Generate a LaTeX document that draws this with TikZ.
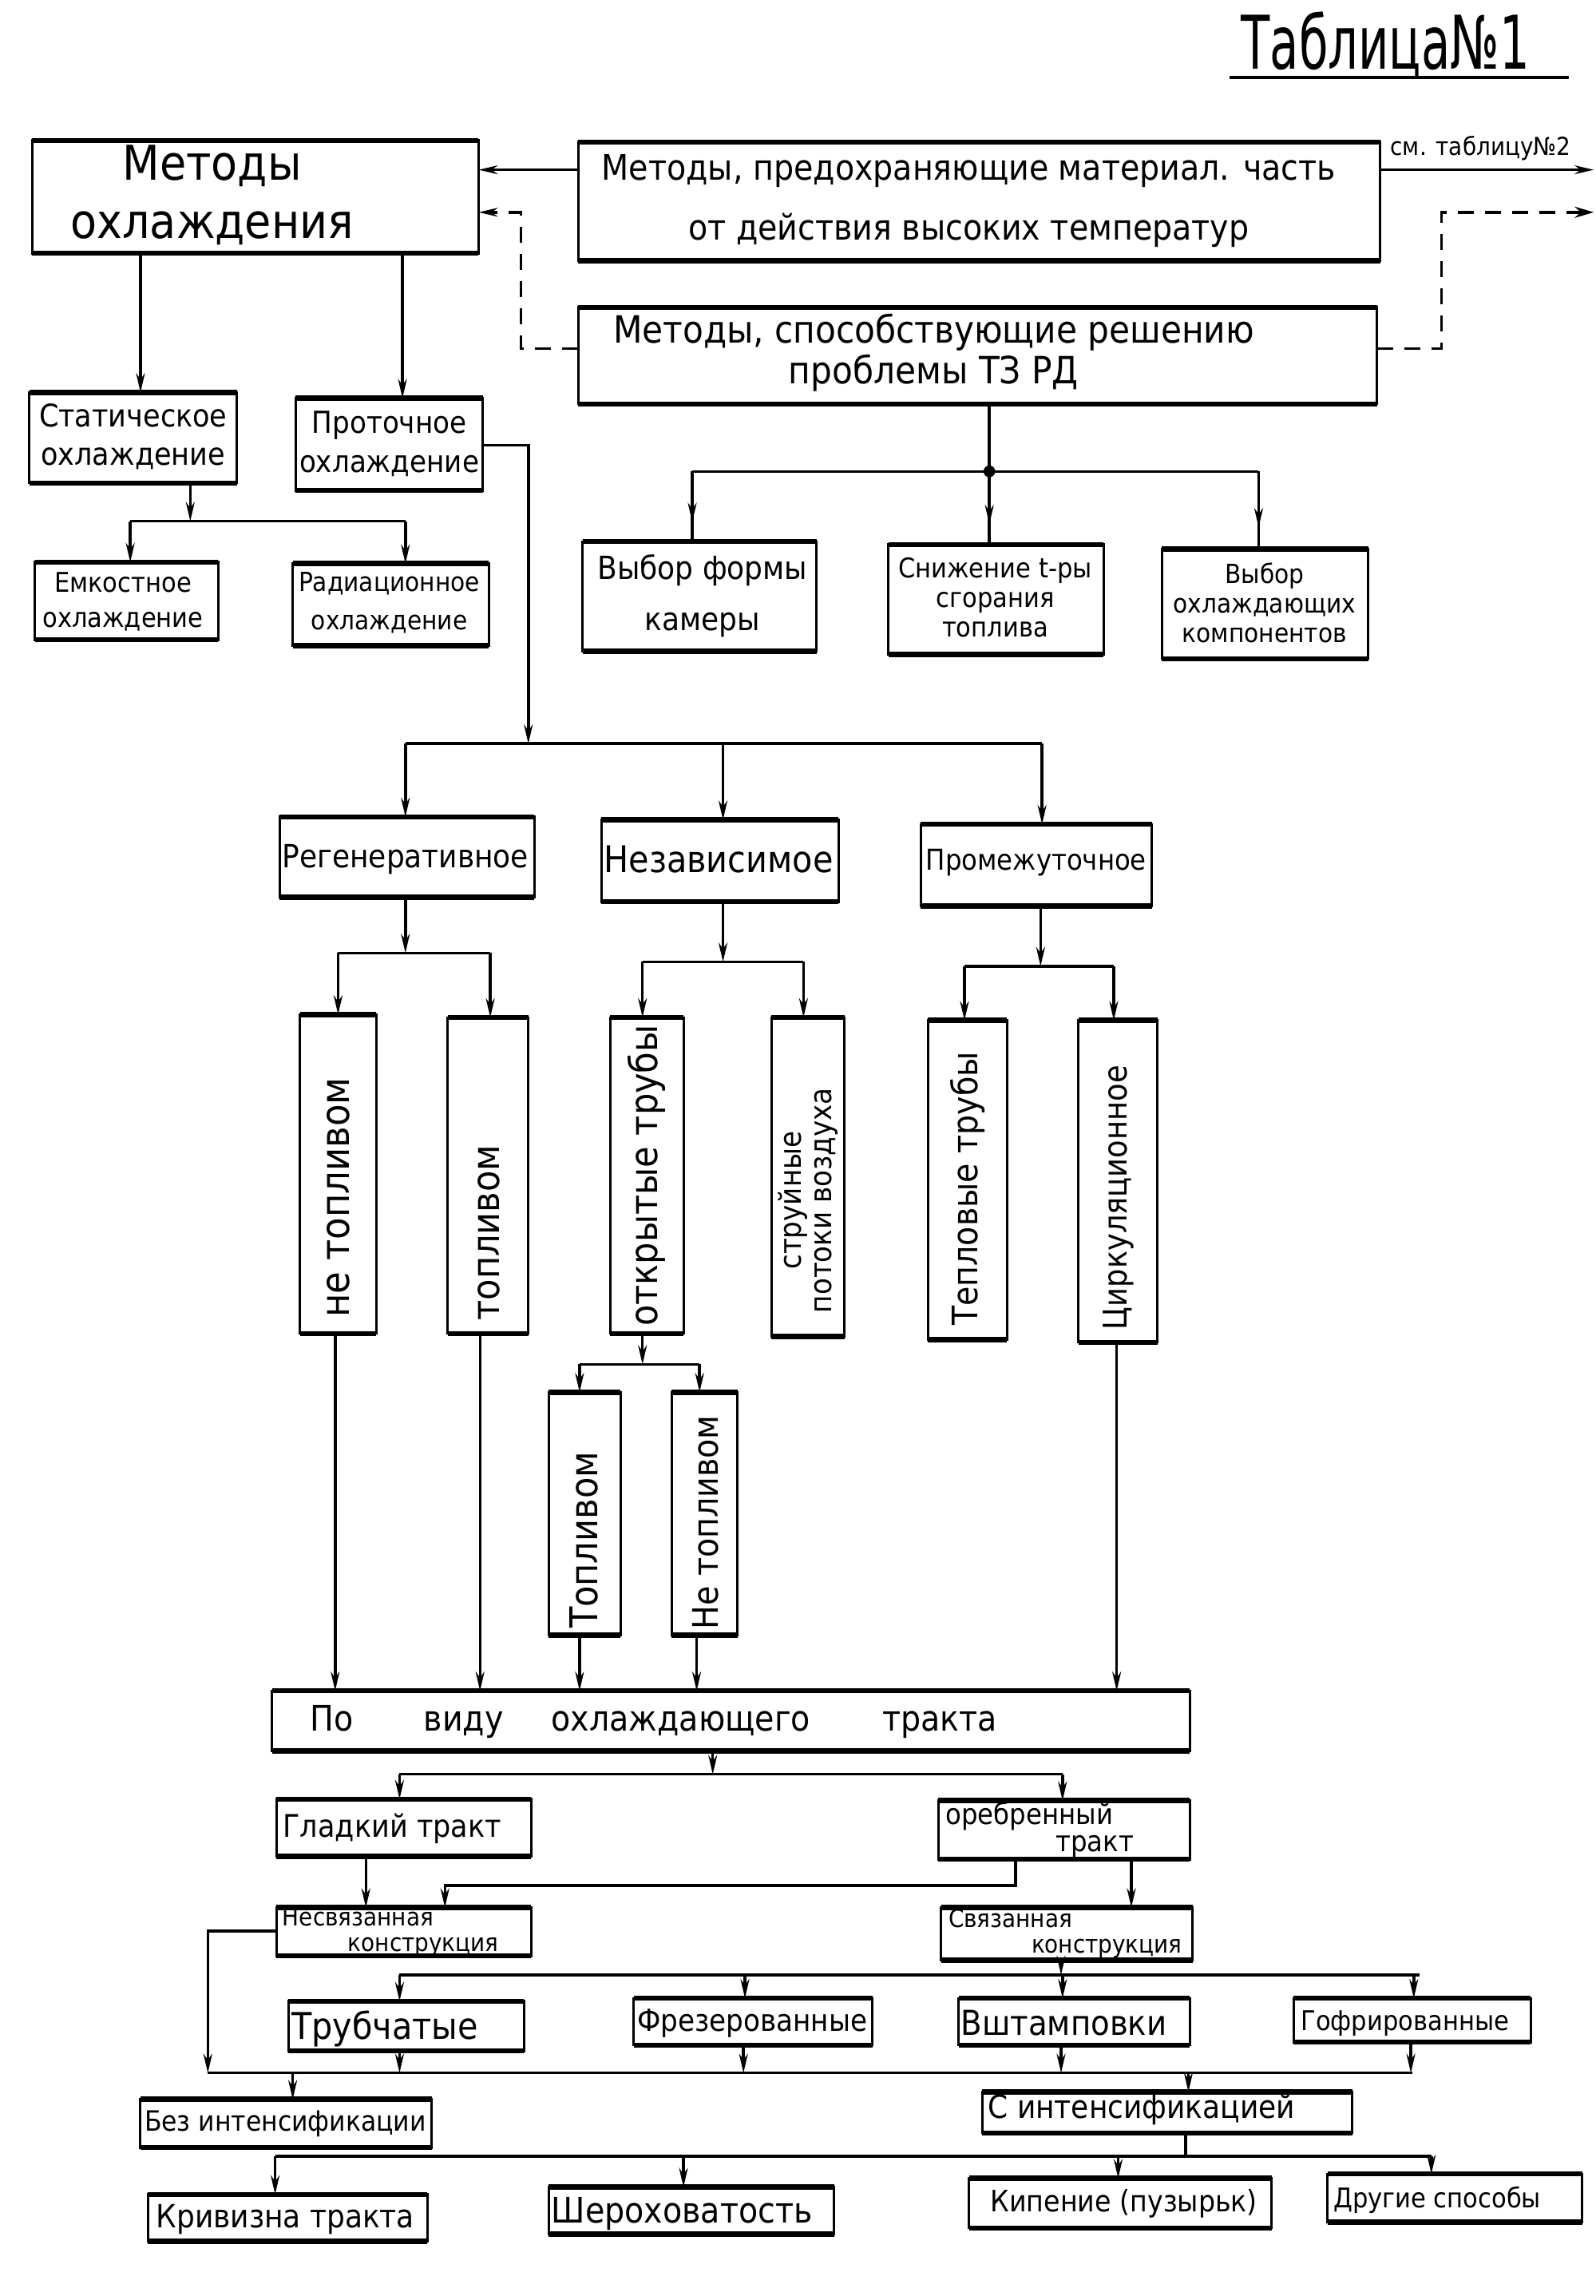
\documentclass[tikz,border=0pt]{standalone}
\usepackage{fontspec}
\setmainfont{DejaVu Sans Condensed}
\usetikzlibrary{arrows.meta,decorations.markings}
\newcommand\bx[6][]{%
 \pgfmathsetmacro\bxcx{(#3+#5)/2}%
 \pgfmathsetmacro\bxcy{(#4+#6)/2}%
 \pgfmathsetmacro\bxw{(#5-#3)*1.83303}%
 \pgfmathsetmacro\bxh{(#6-#4)*1.83303}%
 \node[box,minimum width=\bxw pt,minimum height=\bxh pt,#1] (#2) at (\bxcx,\bxcy) {};%
 \draw[thickedge] (#2.north west) -- (#2.north east) (#2.south west) -- (#2.south east);%
}
\tikzset{
 box/.style={draw,line width=3pt,inner sep=0pt,outer sep=0pt},
 thickedge/.style={line width=6.5pt},
 txt/.style={inner sep=0pt,align=center},
 fs/.style 2 args={font=\fontsize{#1}{#2}\selectfont},
 conn/.style={line width=3.5pt},
 arr/.style={conn,-{Stealth[length=24pt,width=11pt]}},
 marr/.style={conn,postaction={decorate},decoration={markings,mark=at position 0.72 with {\arrow{Stealth[length=24pt,width=11pt]}}}},
 dconn/.style={conn,dash pattern=on 20pt off 14pt},
}
\begin{document}
\begin{tikzpicture}[x=1.83303pt,y=-1.83303pt]
\useasboundingbox (0,0) rectangle (1090,1568.4);
% title
\node[txt,anchor=base west] (title) at (848,47) {\resizebox{361pt}{72pt}{Таблица№1}};
\draw[line width=4pt] (840,53) -- (1072,53);
\node[txt,fs={31}{33},anchor=base west] (see2) at (950,106) {см. таблицу№2};
% boxes
\bx{A}{22}{96}{327}{173}
\bx{B}{395}{97}{943}{178}
\bx{C}{395}{210}{941}{276}
\bx{D}{20}{268}{162}{330}
\bx{E}{202}{272}{330}{335}
\bx{F}{24}{384}{149}{437}
\bx{G}{200}{385}{334}{441}
\bx{H}{398}{370}{558}{445}
\bx{I}{607}{372}{754}{447}
\bx{J}{794}{375}{935}{450}
\bx{K}{191}{558}{365}{613}
\bx{L}{411}{560}{573}{616}
\bx{M}{629}{563}{787}{619}
\bx{N}{205}{693}{257}{911}
\bx{O}{306}{695}{361}{911}
\bx{P}{417}{695}{467}{911}
\bx{Q}{527}{695}{577}{913}
\bx{R}{634}{697}{688}{915}
\bx{S}{737}{697}{791}{917}
\bx{T}{375}{951}{424}{1117}
\bx{U}{459}{951}{504}{1117}
\bx{V}{186}{1155}{813}{1196}
\bx{W}{189}{1229}{363}{1268}
\bx{X}{641}{1230}{813}{1270}
\bx{Y}{189}{1303}{363}{1336}
\bx{Z}{643}{1303}{815}{1339}
\bx{AA}{197}{1367}{358}{1401}
\bx{AB}{433}{1365}{596}{1397}
\bx{AC}{655}{1365}{813}{1397}
\bx{AD}{884}{1365}{1046}{1395}
\bx{BB}{96}{1434}{295}{1467}
\bx{CC}{671}{1429}{924}{1457}
\bx{DD}{101}{1499}{292}{1531}
\bx{EE}{375}{1494}{570}{1526}
\bx{FF}{662}{1488}{869}{1522}
\bx{GG}{907}{1485}{1081}{1518}
% texts
\node[txt,fs={60}{73}] (At) at (145,133) {Методы\\охлаждения};
\node[txt,fs={44}{75}] (Bt) at (662,137) {Методы, предохраняющие материал. часть\\от действия высоких температур};
\node[txt,fs={47}{51}] (Ct) at (638,241) {Методы, способствующие решению\\проблемы ТЗ РД};
\node[txt,fs={39}{48}] (Dt) at (91,298) {Статическое\\охлаждение};
\node[txt,fs={38}{49}] (Et) at (266,303) {Проточное\\охлаждение};
\node[txt,fs={34}{44}] (Ft) at (84,411) {Емкостное\\охлаждение};
\node[txt,fs={33}{48}] (Gt) at (266,412) {Радиационное\\охлаждение};
\node[txt,fs={40}{64}] (Ht) at (480,407) {Выбор формы\\камеры};
\node[txt,fs={34}{37}] (It) at (680,408) {Снижение t-ры\\сгорания\\топлива};
\node[txt,fs={33}{37}] (Jt) at (864,412) {Выбор\\охлаждающих\\компонентов};
\node[txt,fs={40}{40}] (Kt) at (277,587) {Регенеративное};
\node[txt,fs={46}{46}] (Lt) at (491,587) {Независимое};
\node[txt,fs={36}{36}] (Mt) at (708,589) {Промежуточное};
\node[txt,fs={50}{50},rotate=90] (Nt) at (231,818) {не топливом};
\node[txt,fs={48}{48},rotate=90] (Ot) at (334,842) {топливом};
\node[txt,fs={48}{48},rotate=90] (Pt) at (442,803) {открытые трубы};
\node[txt,fs={38}{38},rotate=90] (Qt) at (552,820) {струйные\\потоки воздуха};
\node[txt,fs={44}{44},rotate=90] (Rt) at (661,812) {Тепловые трубы};
\node[txt,fs={41}{41},rotate=90] (St) at (764,818) {Циркуляционное};
\node[txt,fs={48}{48},rotate=90] (Tt) at (399,1052) {Топливом};
\node[txt,fs={44}{44},rotate=90] (Ut) at (482,1040) {Не топливом};
\node[txt,fs={44}{44},anchor=west] (Vt) at (212,1176) {По\hspace{88pt}виду\hspace{60pt}охлаждающего\hspace{90pt}тракта};
\node[txt,fs={39}{39}] (Wt) at (268,1249) {Гладкий тракт};
\node[txt,fs={36}{34},align=left,anchor=west] (Xt) at (646,1250) {оребренный\\\hspace*{138pt}тракт};
\node[txt,fs={31}{32},align=left,anchor=west] (Yt) at (193,1320) {Несвязанная\\\hspace*{82pt}конструкция};
\node[txt,fs={31}{32},align=left,anchor=west] (Zt) at (648,1321) {Связанная\\\hspace*{104pt}конструкция};
\node[txt,fs={46}{46}] (AAt) at (263,1386) {Трубчатые};
\node[txt,fs={38}{38}] (ABt) at (514,1382) {Фрезерованные};
\node[txt,fs={43}{43}] (ACt) at (727,1382) {Вштамповки};
\node[txt,fs={34}{34}] (ADt) at (960,1382) {Гофрированные};
\node[txt,fs={35}{35}] (BBt) at (195,1451) {Без интенсификации};
\node[txt,fs={40}{40}] (CCt) at (780,1441) {С интенсификацией};
\node[txt,fs={40}{40}] (DDt) at (195,1516) {Кривизна тракта};
\node[txt,fs={44}{44}] (EEt) at (466,1512) {Шероховатость};
\node[txt,fs={37}{37}] (FFt) at (768,1505) {Кипение (пузырьк)};
\node[txt,fs={34}{34}] (GGt) at (982,1503) {Другие способы};
% connectors top
\coordinate (outB) at (1089,116);
\coordinate (outC) at (1089,145);
\draw[arr] (B.west |- 0,116) -- (A.east |- 0,116);
\draw[dconn,-{Stealth[length=24pt,width=11pt]}] (C.west |- 0,238) -- (356,238) -- (356,145) -- (A.east |- 0,145);
\draw[arr] (B.east |- 0,116) -- (outB);
\draw[dconn,-{Stealth[length=24pt,width=14pt,open]}] (C.east |- 0,238) -- (985,238) -- (985,145) -- (outC);
\draw[arr] (96,0 |- A.south) -- (96,0 |- D.north);
\draw[arr] (275,0 |- A.south) -- (275,0 |- E.north);
% D -> F, G
\draw[arr] (130,0 |- D.south) -- (130,356);
\draw[conn] (89,356) -- (277,356);
\draw[arr] (89,356) -- (89,0 |- F.north);
\draw[arr] (277,356) -- (277,0 |- G.north);
% C -> H, I, J
\draw[conn] (676,0 |- C.south) -- (676,322);
\fill (676,322) circle (4);
\draw[conn] (473,322) -- (860,322);
\draw[marr] (473,322) -- (473,0 |- H.north);
\draw[marr] (676,322) -- (676,0 |- I.north);
\draw[marr] (860,322) -- (860,0 |- J.north);
% E -> K, L, M
\draw[arr] (E.east |- 0,304) -- (361,304) -- (361,508);
\draw[conn] (277,508) -- (712,508);
\draw[arr] (277,508) -- (277,0 |- K.north);
\draw[arr] (494,508) -- (494,0 |- L.north);
\draw[arr] (712,508) -- (712,0 |- M.north);
% K -> N, O
\draw[arr] (277,0 |- K.south) -- (277,651);
\draw[conn] (231,651) -- (335,651);
\draw[arr] (231,651) -- (231,0 |- N.north);
\draw[arr] (335,651) -- (335,0 |- O.north);
% L -> P, Q
\draw[arr] (494,0 |- L.south) -- (494,657);
\draw[conn] (439,657) -- (549,657);
\draw[arr] (439,657) -- (439,0 |- P.north);
\draw[arr] (549,657) -- (549,0 |- Q.north);
% M -> R, S
\draw[arr] (711,0 |- M.south) -- (711,660);
\draw[conn] (659,660) -- (761,660);
\draw[arr] (659,660) -- (659,0 |- R.north);
\draw[arr] (761,660) -- (761,0 |- S.north);
% P -> T, U
\draw[arr] (439,0 |- P.south) -- (439,932);
\draw[conn] (396,932) -- (478,932);
\draw[arr] (396,932) -- (396,0 |- T.north);
\draw[arr] (478,932) -- (478,0 |- U.north);
% to V
\draw[arr] (229,0 |- N.south) -- (229,0 |- V.north);
\draw[arr] (328,0 |- O.south) -- (328,0 |- V.north);
\draw[arr] (396,0 |- T.south) -- (396,0 |- V.north);
\draw[arr] (476,0 |- U.south) -- (476,0 |- V.north);
\draw[arr] (763,0 |- S.south) -- (763,0 |- V.north);
% V -> W, X
\draw[arr] (487,0 |- V.south) -- (487,1212);
\draw[conn] (273,1212) -- (726,1212);
\draw[arr] (273,1212) -- (273,0 |- W.north);
\draw[arr] (726,1212) -- (726,0 |- X.north);
% W, X -> Y, Z
\draw[arr] (250,0 |- W.south) -- (250,0 |- Y.north);
\draw[arr] (694,0 |- X.south) -- (694,1288) -- (304,1288) -- (304,0 |- Y.north);
\draw[arr] (773,0 |- X.south) -- (773,0 |- Z.north);
% Z -> AA..AD
\draw[arr] (725,0 |- Z.south) -- (725,1349);
\draw[conn] (273,1349) -- (970,1349);
\draw[arr] (273,1349) -- (273,0 |- AA.north);
\draw[arr] (509,1349) -- (509,0 |- AB.north);
\draw[arr] (726,1349) -- (726,0 |- AC.north);
\draw[arr] (966,1349) -- (966,0 |- AD.north);
% Y left and collector
\draw[arr] (Y.west |- 0,1319) -- (142,1319) -- (142,1416);
\draw[conn] (142,1416) -- (965,1416);
\draw[arr] (273,0 |- AA.south) -- (273,1416);
\draw[arr] (508,0 |- AB.south) -- (508,1416);
\draw[arr] (725,0 |- AC.south) -- (725,1416);
\draw[arr] (964,0 |- AD.south) -- (964,1416);
\draw[arr] (200,1416) -- (200,0 |- BB.north);
\draw[arr] (812,1416) -- (812,0 |- CC.north);
% CC -> DD..GG
\draw[conn] (810,0 |- CC.south) -- (810,1473);
\draw[conn] (188,1473) -- (978,1473);
\draw[arr] (188,1473) -- (188,0 |- DD.north);
\draw[arr] (467,1473) -- (467,0 |- EE.north);
\draw[arr] (764,1473) -- (764,0 |- FF.north);
\draw[arr] (978,1473) -- (978,0 |- GG.north);
\end{tikzpicture}
\end{document}
